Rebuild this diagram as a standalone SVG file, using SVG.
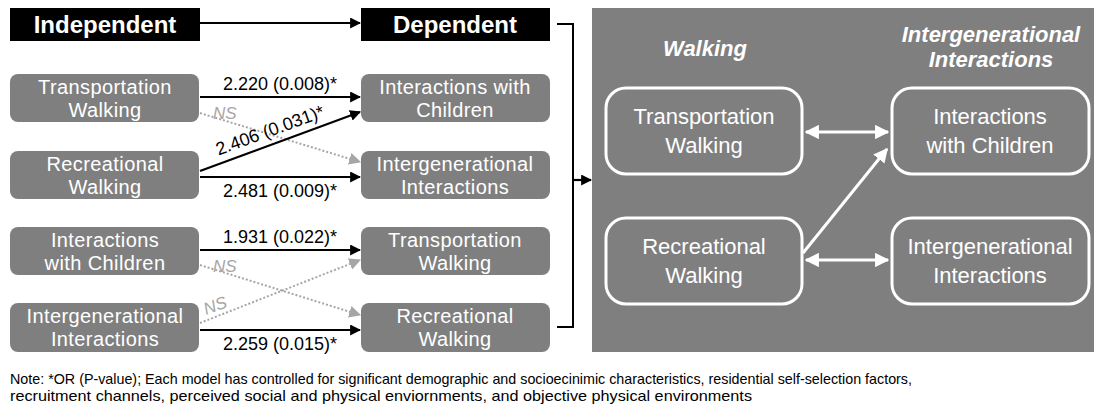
<svg xmlns="http://www.w3.org/2000/svg" width="1094" height="408" viewBox="0 0 1094 408">
  <style>
    .hdr { fill: #000; }
    .hdrt { font: bold 24px "Liberation Sans", Arial, sans-serif; fill: #fff; text-anchor: middle; }
    .node { fill: #7f7f7f; }
    .nt { font: 20px "Liberation Sans", Arial, sans-serif; fill: #fff; text-anchor: middle; letter-spacing: 0.4px; }
    .lbl { font: 18px "Liberation Sans", Arial, sans-serif; fill: #000; text-anchor: middle; }
    .ns { font: italic 17px "Liberation Sans", Arial, sans-serif; fill: #a6a6a6; }
    .sig { stroke: #000; stroke-width: 2.2; fill: none; marker-end: url(#ah); }
    .nsl { stroke: #a6a6a6; stroke-width: 2; stroke-dasharray: 2 2; fill: none; marker-end: url(#ahg); }
    .pnode { fill: none; stroke: #fff; stroke-width: 3; }
    .pt { font: 22px "Liberation Sans", Arial, sans-serif; fill: #fff; text-anchor: middle; }
    .ph { font: italic bold 22px "Liberation Sans", Arial, sans-serif; fill: #fff; text-anchor: middle; }
    .pl { stroke: #fff; stroke-width: 3; fill: none; }
    .note { font: 15px "Liberation Sans", Arial, sans-serif; fill: #000; }
  </style>
  <defs>
    <marker id="ah" viewBox="0 0 10 10" refX="9" refY="5" markerWidth="5" markerHeight="5" markerUnits="strokeWidth" orient="auto">
      <path d="M0,0 L10,5 L0,10 z" fill="#000"/>
    </marker>
    <marker id="ahg" viewBox="0 0 10 10" refX="9" refY="5" markerWidth="6" markerHeight="6" markerUnits="strokeWidth" orient="auto">
      <path d="M0,0 L10,5 L0,10 z" fill="#a6a6a6"/>
    </marker>
    <marker id="aw" viewBox="0 0 10 10" refX="9" refY="5" markerWidth="4.8" markerHeight="4.8" markerUnits="strokeWidth" orient="auto-start-reverse">
      <path d="M0,0 L10,5 L0,10 z" fill="#fff"/>
    </marker>
  </defs>

  <!-- column headers -->
  <g id="hdr-independent">
    <rect class="hdr" x="10" y="8" width="190" height="33"/>
    <text class="hdrt" x="105" y="33">Independent</text>
  </g>
  <g id="hdr-dependent">
    <rect class="hdr" x="361" y="8" width="189" height="33"/>
    <text class="hdrt" x="455" y="33">Dependent</text>
  </g>

  <!-- independent variables -->
  <g id="in-transport">
    <rect class="node" x="10" y="74" width="189" height="48" rx="8"/>
    <text class="nt" x="105" y="94">Transportation</text>
    <text class="nt" x="105" y="116.5">Walking</text>
  </g>
  <g id="in-recreational">
    <rect class="node" x="10" y="151" width="189" height="48" rx="8"/>
    <text class="nt" x="105" y="171">Recreational</text>
    <text class="nt" x="105" y="193.5">Walking</text>
  </g>
  <g id="in-children">
    <rect class="node" x="10" y="227" width="189" height="48" rx="8"/>
    <text class="nt" x="105" y="247">Interactions</text>
    <text class="nt" x="105" y="269.5">with Children</text>
  </g>
  <g id="in-intergen">
    <rect class="node" x="10" y="303" width="189" height="49" rx="8"/>
    <text class="nt" x="105" y="323">Intergenerational</text>
    <text class="nt" x="105" y="345.5">Interactions</text>
  </g>

  <!-- dependent variables -->
  <g id="out-children">
    <rect class="node" x="361" y="74" width="189" height="48" rx="8"/>
    <text class="nt" x="455" y="94">Interactions with</text>
    <text class="nt" x="455" y="116.5">Children</text>
  </g>
  <g id="out-intergen">
    <rect class="node" x="361" y="151" width="189" height="48" rx="8"/>
    <text class="nt" x="455" y="171">Intergenerational</text>
    <text class="nt" x="455" y="193.5">Interactions</text>
  </g>
  <g id="out-transport">
    <rect class="node" x="361" y="227" width="189" height="48" rx="8"/>
    <text class="nt" x="455" y="247">Transportation</text>
    <text class="nt" x="455" y="269.5">Walking</text>
  </g>
  <g id="out-recreational">
    <rect class="node" x="361" y="303" width="189" height="49" rx="8"/>
    <text class="nt" x="455" y="323">Recreational</text>
    <text class="nt" x="455" y="345.5">Walking</text>
  </g>

  <!-- summary panel -->
  <g id="panel">
    <rect x="592" y="8" width="502" height="344" fill="#7f7f7f"/>
    <text class="ph" x="705" y="56">Walking</text>
    <text class="ph" x="991" y="42">Intergenerational</text>
    <text class="ph" x="991" y="67">Interactions</text>
  </g>
  <g id="p-transport">
    <rect class="pnode" x="606" y="88" width="196" height="86" rx="20"/>
    <text class="pt" x="704" y="124">Transportation</text>
    <text class="pt" x="704" y="153">Walking</text>
  </g>
  <g id="p-children">
    <rect class="pnode" x="892" y="88" width="197" height="86" rx="20"/>
    <text class="pt" x="990" y="124">Interactions</text>
    <text class="pt" x="990" y="153">with Children</text>
  </g>
  <g id="p-recreational">
    <rect class="pnode" x="606" y="218" width="196" height="86" rx="20"/>
    <text class="pt" x="704" y="254">Recreational</text>
    <text class="pt" x="704" y="283">Walking</text>
  </g>
  <g id="p-intergen">
    <rect class="pnode" x="892" y="218" width="197" height="86" rx="20"/>
    <text class="pt" x="990" y="254">Intergenerational</text>
    <text class="pt" x="990" y="283">Interactions</text>
  </g>

  <!-- connectors -->
  <g id="connectors">
    <line class="sig" x1="200" y1="23" x2="360" y2="23"/>

    <line class="sig" x1="200" y1="97" x2="360" y2="97"/>
    <line class="nsl" x1="200" y1="113" x2="360" y2="162"/>
    <line class="sig" x1="200" y1="171" x2="360" y2="112"/>
    <line class="sig" x1="200" y1="177" x2="360" y2="177"/>

    <line class="sig" x1="200" y1="250" x2="360" y2="250"/>
    <line class="nsl" x1="200" y1="265" x2="360" y2="315"/>
    <line class="nsl" x1="200" y1="323" x2="360" y2="260"/>
    <line class="sig" x1="200" y1="330" x2="360" y2="330"/>

    <path d="M557,24 H573 V327 H557" fill="none" stroke="#000" stroke-width="2"/>
    <line class="sig" x1="573" y1="180" x2="591" y2="180"/>

    <line class="pl" x1="806" y1="132" x2="888" y2="132" marker-start="url(#aw)" marker-end="url(#aw)"/>
    <line class="pl" x1="806" y1="260" x2="888" y2="260" marker-start="url(#aw)" marker-end="url(#aw)"/>
    <line class="pl" x1="803" y1="253" x2="887" y2="149" marker-end="url(#aw)"/>

    <text class="lbl" x="280" y="90">2.220 (0.008)*</text>
    <text class="lbl" x="272" y="136" transform="rotate(-20 272 136)">2.406 (0.031)*</text>
    <text class="lbl" x="280" y="197">2.481 (0.009)*</text>
    <text class="lbl" x="280" y="243">1.931 (0.022)*</text>
    <text class="lbl" x="280" y="350">2.259 (0.015)*</text>

    <text class="ns" x="213" y="119">NS</text>
    <text class="ns" x="213" y="272">NS</text>
    <text class="ns" x="206" y="315" transform="rotate(-20 206 315)">NS</text>
  </g>

  <g id="note">
    <text class="note" x="10" y="384" textLength="902" lengthAdjust="spacingAndGlyphs">Note: *OR (P-value); Each model has controlled for significant demographic and socioecinimic characteristics, residential self-selection factors,</text>
    <text class="note" x="10" y="401" textLength="742" lengthAdjust="spacingAndGlyphs">recruitment channels, perceived social and physical enviornments, and objective physical environments</text>
  </g>
</svg>
